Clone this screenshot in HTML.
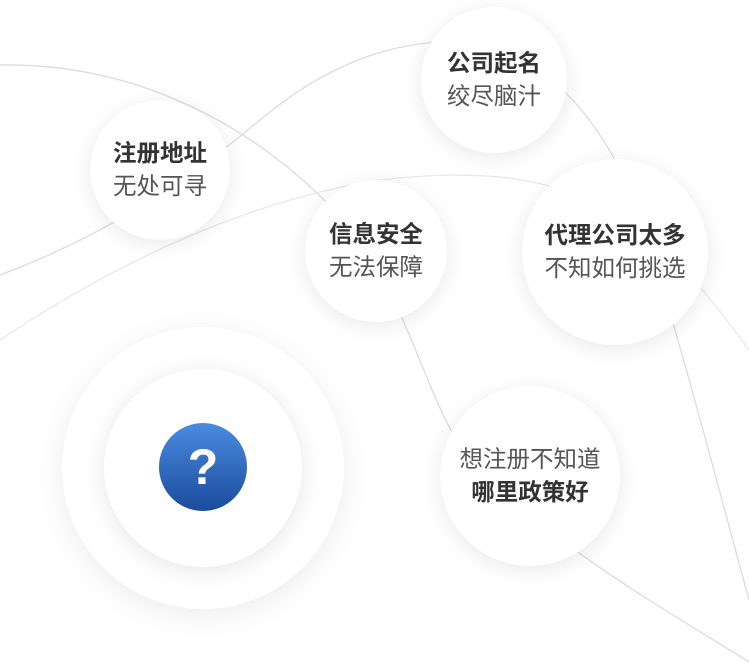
<!DOCTYPE html>
<html><head><meta charset="utf-8"><style>
html,body{margin:0;padding:0;background:#fff;}
body{width:749px;height:671px;position:relative;overflow:hidden;font-family:"Liberation Sans","Noto Sans CJK SC",sans-serif;}
svg{position:absolute;left:0;top:0;}
.c{position:absolute;border-radius:50%;background:#fff;box-shadow:0 4px 22px rgba(0,0,0,0.09);display:flex;flex-direction:column;justify-content:center;align-items:center;}
.c div{font-size:23.5px;line-height:33px;color:#555;white-space:nowrap;}
.c div.b{font-weight:bold;color:#333;}
</style></head><body>
<svg width="749" height="671">
<g fill="none" stroke="#dcdcdc" stroke-width="1.3">
<path d="M0,65 C150,62 280,140 360,240 C420,330 430,420 480,470 C560,550 650,600 749,662"/>
<path d="M0,275 C120,230 200,170 260,120 C320,70 380,45 440,42 C520,40 580,90 620,170 C660,260 700,420 749,600"/>
<path d="M0,340 C120,260 250,200 380,180 C470,170 560,170 640,230 C690,270 720,310 749,350" stroke="#e8e8e8"/>
</g>
</svg>
<div class="c" style="left:421px;top:7px;width:146px;height:146px;"><div class="b">公司起名</div><div>绞尽脑汁</div></div>
<div class="c" style="left:90px;top:100px;width:140px;height:140px;"><div class="b">注册地址</div><div>无处可寻</div></div>
<div class="c" style="left:305px;top:180px;width:142px;height:142px;"><div class="b">信息安全</div><div>无法保障</div></div>
<div class="c" style="left:522px;top:159px;width:186px;height:186px;"><div class="b">代理公司太多</div><div>不知如何挑选</div></div>
<div class="c" style="left:440px;top:386px;width:180px;height:180px;"><div>想注册不知道</div><div class="b">哪里政策好</div></div>
<div class="c" style="left:62px;top:327px;width:282px;height:282px;box-shadow:0 6px 30px rgba(0,0,0,0.08);"></div>
<div class="c" style="left:104px;top:369px;width:198px;height:198px;box-shadow:0 4px 24px rgba(0,0,0,0.10);"></div>
<div style="position:absolute;left:159px;top:423px;width:88px;height:88px;border-radius:50%;background:linear-gradient(#4a8be0,#1b4c9c);color:#fff;font-size:50px;font-weight:bold;line-height:88px;text-align:center;font-family:'Liberation Sans',sans-serif;">?</div>
</body></html>
